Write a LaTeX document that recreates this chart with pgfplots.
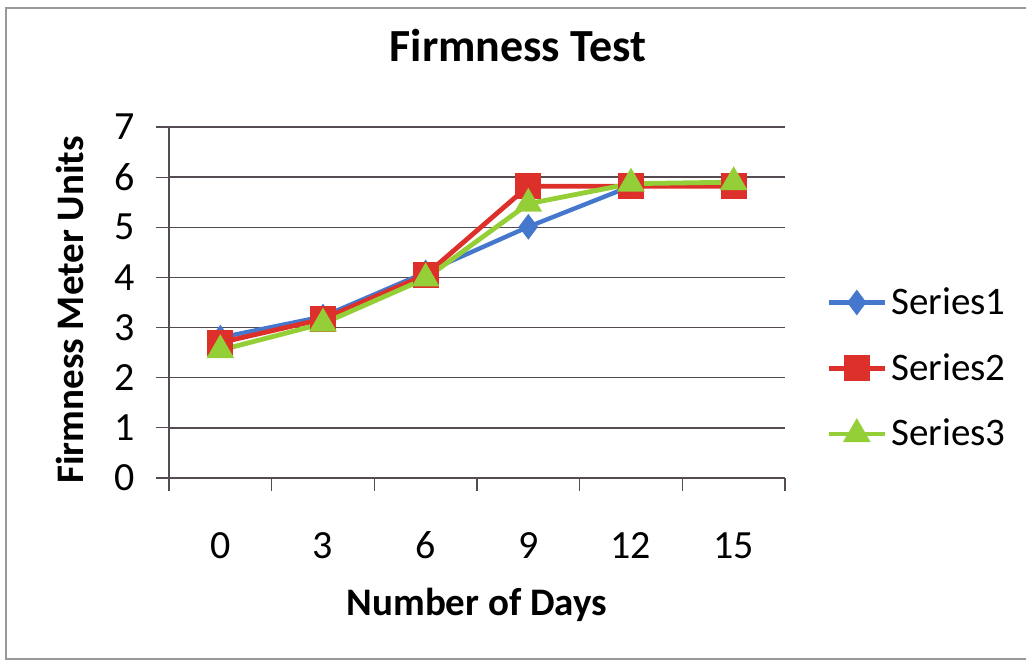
\documentclass[border=0pt]{standalone}
\usepackage{pgfplots}
\pgfplotsset{compat=1.18}
\usepackage{fontspec}
\setmainfont{Carlito}
\definecolor{sblue}{rgb}{0.27,0.47,0.80}
\definecolor{sred}{rgb}{0.87,0.19,0.17}
\definecolor{sgreen}{rgb}{0.58,0.81,0.22}
\definecolor{gridc}{rgb}{0.33,0.30,0.32}
\begin{document}
\begin{tikzpicture}
\useasboundingbox (0,0) rectangle (513bp,331bp);
\draw[gray!80, line width=0.6bp] (516bp,327bp) -- (3bp,327bp) -- (3bp,1.5bp) -- (516bp,1.5bp);
\begin{axis}[
  at={(84.5bp,92bp)}, anchor=south west,
  scale only axis, width=308bp, height=175.5bp,
  xmin=-0.5, xmax=5.5, ymin=0, ymax=7,
  axis x line*=bottom, axis y line*=left,
  axis line style={gridc, line width=0.6bp},
  xtick={0,1,2,3,4,5},
  xticklabels={0,3,6,9,12,15},
  minor xtick={-0.5,0.5,1.5,2.5,3.5,4.5,5.5},
  ytick={0,1,2,3,4,5,6,7},
  tick align=outside,
  major tick length=6.5bp, minor tick length=6.5bp,
  major x tick style={draw=none},
  tick style={gridc, line width=0.6bp},
  ymajorgrids, grid style={gridc, line width=0.75bp},
  /pgf/number format/assume math mode=true,
  tick label style={font=\fontsize{20bp}{23bp}\selectfont, text=black},
  xticklabel style={yshift=-17bp, text height=13bp, text depth=0pt},
  yticklabel style={xshift=-7bp},
  title={Firmness Test},
  title style={font=\fontsize{23bp}{27bp}\selectfont\bfseries, at={(rel axis cs:0.5666,1.197)}, anchor=center},
  xlabel={Number of Days},
  xlabel style={font=\fontsize{19.5bp}{23bp}\selectfont\bfseries, at={(rel axis cs:0.5,-0.362)}, anchor=center},
  ylabel={Firmness Meter Units},
  ylabel style={font=\fontsize{19.5bp}{23bp}\selectfont\bfseries, at={(rel axis cs:-0.16,0.479)}, anchor=center, rotate=0},
  legend style={draw=none, fill=none, at={(rel axis cs:1.0666,0.555)}, anchor=north west,
    font=\fontsize{19.5bp}{23bp}\selectfont, row sep=14bp, inner sep=0pt,
    /tikz/every even column/.append style={column sep=0bp}},
  legend cell align=left,
  legend image code/.code={\draw[mark repeat=2,mark phase=2,#1] plot coordinates {(0bp,0bp) (14bp,0bp) (28bp,0bp)};},
]
\addplot[sblue, line width=2.2bp, mark=diamond*, mark size=4.6bp, mark options={solid, fill=sblue}]
  coordinates {(0,2.8) (1,3.22) (2,4.1) (3,5.01) (4,5.82) (5,5.87)};
\addlegendentry{Series1}
\addplot[sred, line width=2.4bp, mark=square*, mark size=5.3bp, mark options={solid, fill=sred}]
  coordinates {(0,2.7) (1,3.17) (2,4.05) (3,5.82) (4,5.82) (5,5.82)};
\addlegendentry{Series2}
\addplot[sgreen, line width=2.4bp, mark=triangle*, mark size=5.6bp, mark options={solid, fill=sgreen}]
  coordinates {(0,2.55) (1,3.08) (2,3.98) (3,5.47) (4,5.87) (5,5.9)};
\addlegendentry{Series3}
\end{axis}
\end{tikzpicture}
\end{document}
